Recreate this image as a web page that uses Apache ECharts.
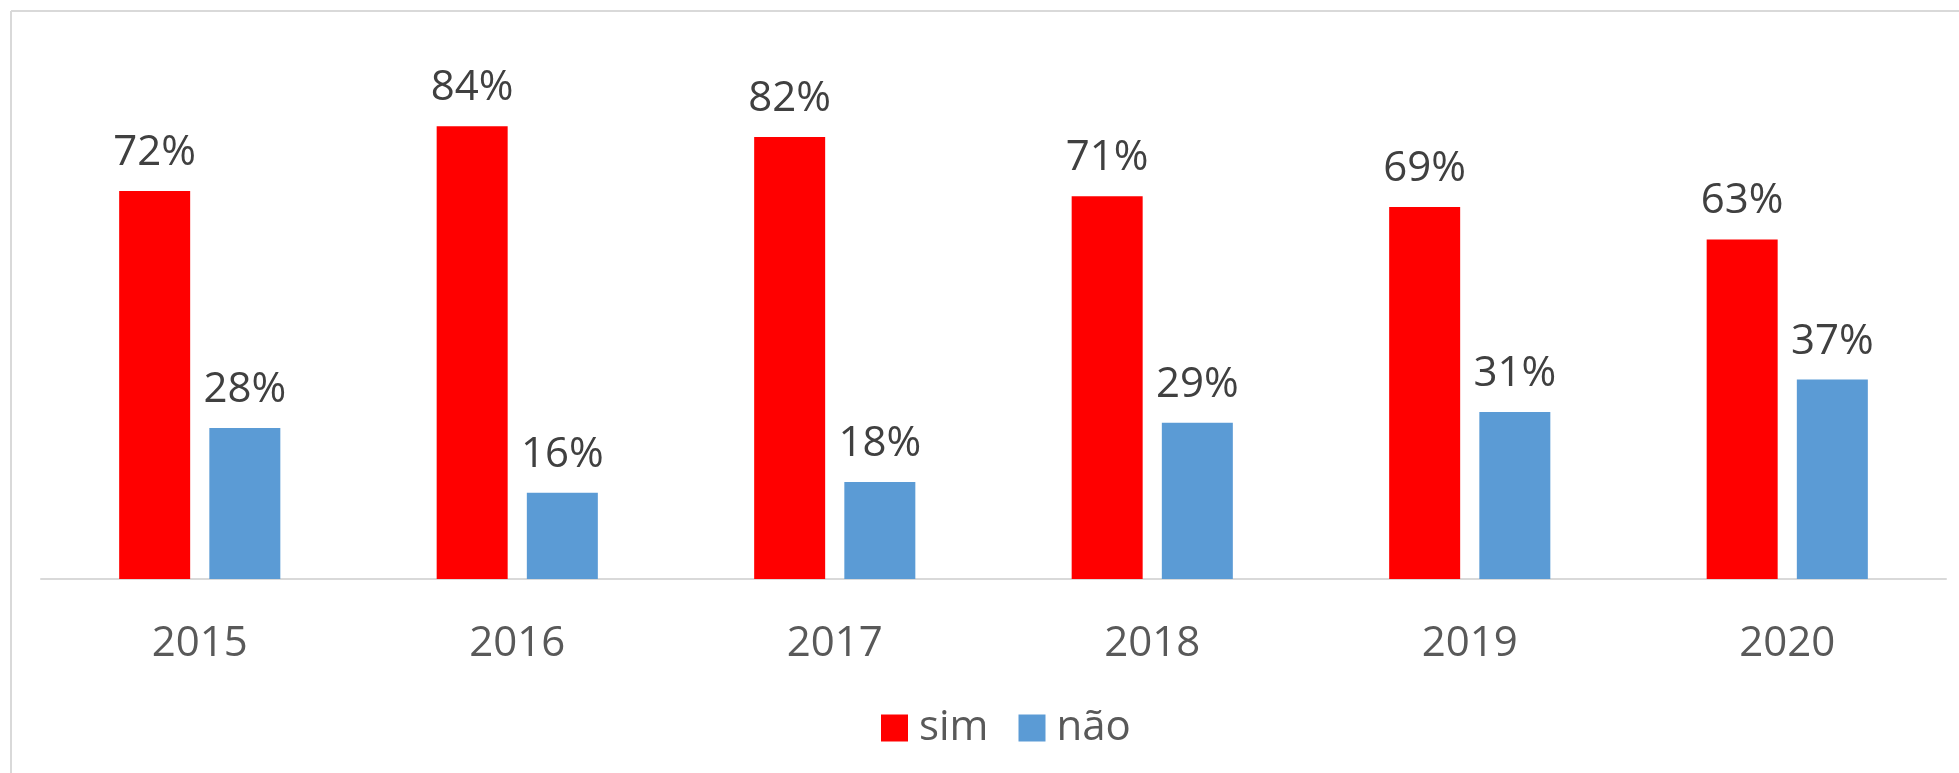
<!DOCTYPE html>
<html>
<head>
<meta charset="utf-8">
<style>
  html, body { margin: 0; padding: 0; background: #ffffff; }
  #chart { width: 1959px; height: 773px; }
</style>
<script src="https://cdn.jsdelivr.net/npm/echarts@6/dist/echarts.min.js"></script>
</head>
<body>
<div id="chart"></div>
<script>
const categories = ['2015', '2016', '2017', '2018', '2019', '2020'];
const simValues = [72, 84, 82, 71, 69, 63];
const naoValues = [28, 16, 18, 29, 31, 37];
const seriesNames = ['sim', 'não'];

const FONT = '"Open Sans", "Liberation Sans", sans-serif';
const chart = echarts.init(document.getElementById('chart'), null, { renderer: 'canvas' });

const labelStyle = {
  show: true,
  position: 'top',
  distance: 17,
  color: '#404040',
  fontFamily: FONT,
  fontSize: 42,
  formatter: p => p.value + '%'
};

chart.setOption({
  animation: false,
  backgroundColor: '#ffffff',
  graphic: [
    { type: 'line', shape: { x1: 11, y1: 11, x2: 1959, y2: 11 }, style: { stroke: '#d9d9d9', lineWidth: 2 } },
    { type: 'line', shape: { x1: 11, y1: 11, x2: 11, y2: 773 }, style: { stroke: '#d9d9d9', lineWidth: 2 } }
  ],
  grid: { left: 41, right: 13, top: 40, bottom: 194, containLabel: false },
  legend: {
    data: seriesNames,
    left: 876,
    top: 702,
    itemWidth: 27,
    itemHeight: 27,
    itemGap: 30,
    icon: 'rect',
    textStyle: { color: '#595959', fontFamily: FONT, fontSize: 42, padding: [0, 0, 0, 6] }
  },
  xAxis: {
    type: 'category',
    data: categories,
    axisLine: { show: true, lineStyle: { color: '#d9d9d9', width: 2 } },
    axisTick: { show: false },
    axisLabel: { color: '#595959', fontFamily: FONT, fontSize: 42, margin: 44 }
  },
  yAxis: {
    type: 'value',
    min: 0,
    max: 100,
    show: false,
    splitLine: { show: false }
  },
  series: [
    {
      name: seriesNames[0],
      type: 'bar',
      data: simValues,
      barWidth: 71,
      barGap: '27%',
      itemStyle: { color: '#FF0000' },
      label: labelStyle
    },
    {
      name: seriesNames[1],
      type: 'bar',
      data: naoValues,
      barWidth: 71,
      itemStyle: { color: '#5B9BD5' },
      label: labelStyle
    }
  ]
});
</script>
</body>
</html>
